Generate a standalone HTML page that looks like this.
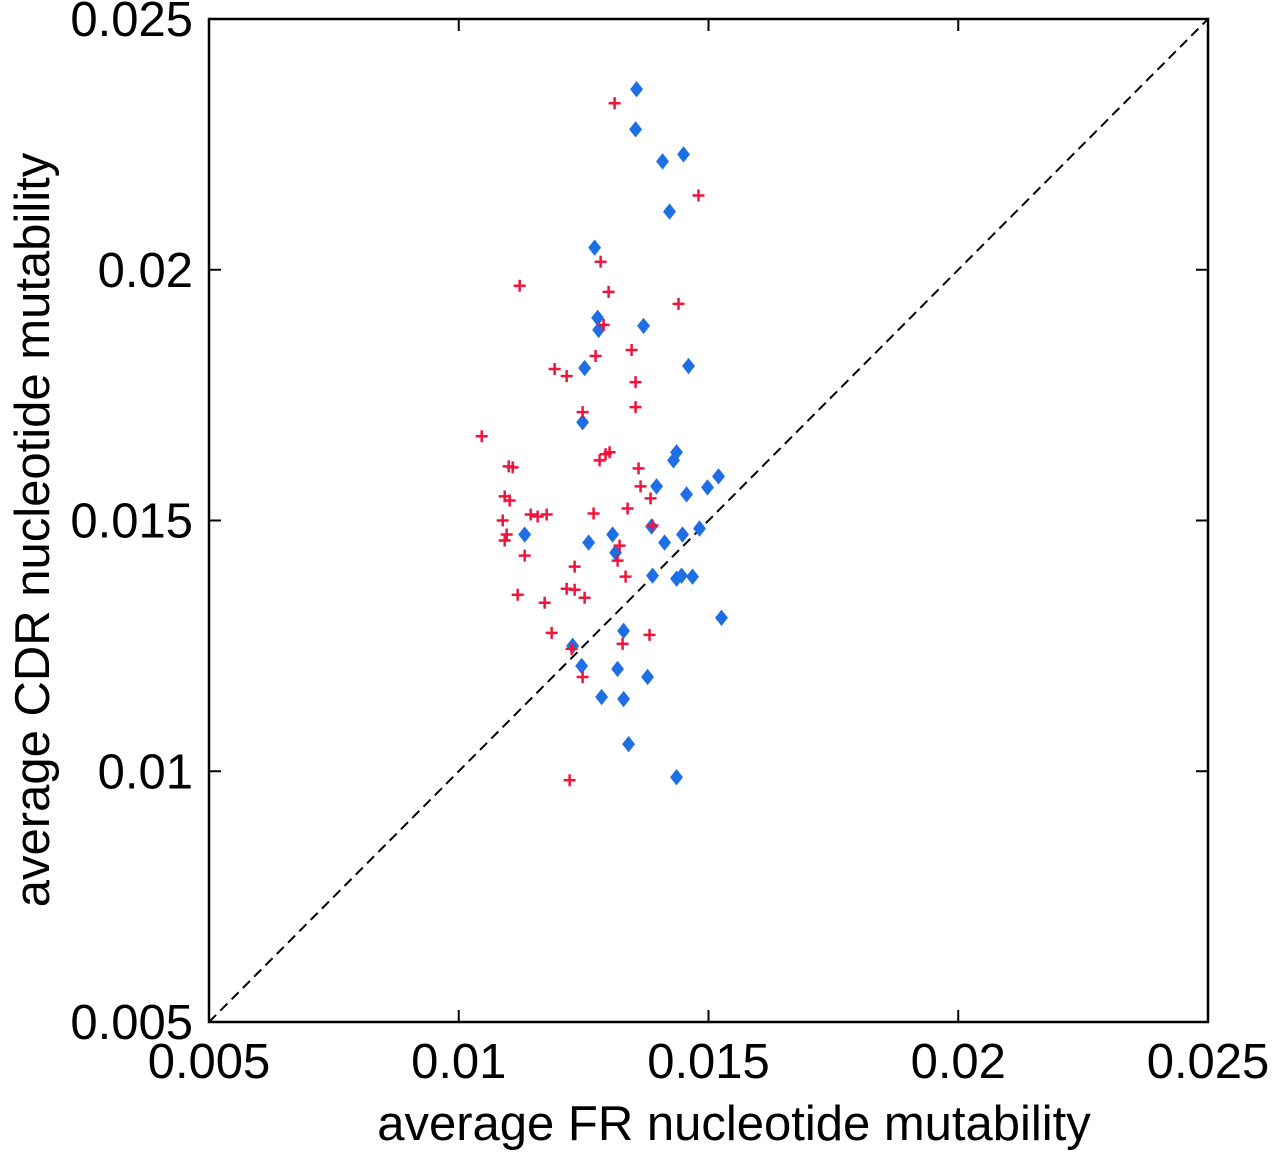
<!DOCTYPE html>
<html><head><meta charset="utf-8"><style>
html,body{margin:0;padding:0;background:#fff;}
svg{display:block;font-family:"Liberation Sans",Arial,sans-serif;}
</style></head><body>
<svg id="chart" width="1280" height="1165" viewBox="0 0 1280 1165">
<g id="grid"></g>
<g id="marks"></g>
</svg>
<script>
const xTicks=[0.005,0.01,0.015,0.02,0.025];
const yTicks=[0.005,0.01,0.015,0.02,0.025];
const xTickLabels=["0.005","0.01","0.015","0.02","0.025"];
const yTickLabels=["0.005","0.01","0.015","0.02","0.025"];
const blueX=[0.01356,0.01354,0.01408,0.0145,0.01422,0.01272,0.01278,0.0128,0.0137,0.0146,0.01252,0.01248,0.01436,0.0143,0.01396,0.01456,0.0152,0.01498,0.01132,0.0126,0.01308,0.01314,0.01386,0.01412,0.01448,0.01482,0.01388,0.01436,0.01446,0.01468,0.01526,0.0133,0.01228,0.01246,0.01318,0.01378,0.01286,0.0133,0.0134,0.01436];
const blueY=[0.0236,0.0228,0.02216,0.0223,0.02116,0.02044,0.01904,0.0188,0.01888,0.01808,0.01804,0.01696,0.01636,0.0162,0.01568,0.01552,0.01588,0.01566,0.01472,0.01456,0.01472,0.01436,0.01488,0.01456,0.01472,0.01484,0.0139,0.01384,0.0139,0.01388,0.01306,0.0128,0.0125,0.0121,0.01204,0.01188,0.01148,0.01144,0.01054,0.00988];
const redX=[0.01312,0.01480,0.01122,0.01284,0.013,0.01440,0.01290,0.01346,0.01274,0.01192,0.01216,0.01354,0.01354,0.01248,0.01046,0.011,0.01108,0.01294,0.01282,0.01302,0.0136,0.01364,0.01092,0.01102,0.01088,0.01096,0.01092,0.01144,0.01158,0.01176,0.0127,0.01338,0.01384,0.01388,0.01132,0.01322,0.01232,0.01318,0.01334,0.01216,0.01232,0.01252,0.01172,0.01118,0.01186,0.01382,0.01328,0.01226,0.01248,0.01222];
const redY=[0.02332,0.02148,0.01968,0.02016,0.01956,0.01932,0.0189,0.01840,0.01828,0.01802,0.01788,0.01776,0.01726,0.01716,0.01668,0.01608,0.01606,0.01632,0.0162,0.01636,0.01604,0.01568,0.01548,0.0154,0.015,0.01472,0.0146,0.01512,0.01508,0.01512,0.01514,0.01524,0.01544,0.0149,0.0143,0.01450,0.01408,0.0142,0.01388,0.01364,0.01362,0.01346,0.01336,0.01352,0.01276,0.01272,0.01254,0.01244,0.01188,0.00982];
const NS="http://www.w3.org/2000/svg";
const L=209,R=1208,T=19,B=1022;
function sx(v){return L+(v-0.005)/0.02*(R-L);}
function sy(v){return B-(v-0.005)/0.02*(B-T);}
function mk(tag,a,p){const e=document.createElementNS(NS,tag);for(const k in a)e.setAttribute(k,a[k]);p.appendChild(e);return e;}
const g=document.getElementById('grid'),m=document.getElementById('marks');
let box=mk('rect',{x:L,y:T,width:R-L,height:B-T,fill:'none',stroke:'#000','stroke-width':2.5},g);

let diag=mk('line',{x1:sx(0.005),y1:sy(0.005),x2:sx(0.025),y2:sy(0.025),stroke:'#000','stroke-width':2,'stroke-dasharray':'10,6'},g);

xTicks.forEach((v,i)=>{const x=sx(v);
 mk('line',{x1:x,y1:B,x2:x,y2:B-12,stroke:'#000','stroke-width':2},g);
 mk('line',{x1:x,y1:T,x2:x,y2:T+12,stroke:'#000','stroke-width':2},g);
 const t=mk('text',{x:x,y:1078,'text-anchor':'middle','font-size':49,fill:'#000'},g);t.textContent=xTickLabels[i];
 });
yTicks.forEach((v,i)=>{const y=sy(v);
 mk('line',{x1:L,y1:y,x2:L+12,y2:y,stroke:'#000','stroke-width':2},g);
 mk('line',{x1:R,y1:y,x2:R-12,y2:y,stroke:'#000','stroke-width':2},g);
 const t=mk('text',{x:193,y:y+17,'text-anchor':'end','font-size':49,fill:'#000'},g);t.textContent=yTickLabels[i];
 });
let xt=mk('text',{x:734,y:1140,'text-anchor':'middle','font-size':49,fill:'#000'},g);xt.textContent='average FR nucleotide mutability';

let yt=mk('text',{x:0,y:0,'text-anchor':'middle','font-size':49,fill:'#000',transform:'translate(49,530) rotate(-90)'},g);yt.textContent='average CDR nucleotide mutability';

blueX.forEach((v,i)=>{const x=sx(v),y=sy(blueY[i]);
 const p=mk('polygon',{points:`${x},${y-7} ${x+5.5},${y} ${x},${y+7} ${x-5.5},${y}`,fill:'#1e6fe6',stroke:'#1e6fe6','stroke-width':1.5},m);
 });
redX.forEach((v,i)=>{const x=sx(v),y=sy(redY[i]);
 const p=mk('path',{d:`M${x-6},${y}H${x+6}M${x},${y-6}V${y+6}`,stroke:'#f0143c','stroke-width':2.5},m);
 });
</script>
</body></html>
